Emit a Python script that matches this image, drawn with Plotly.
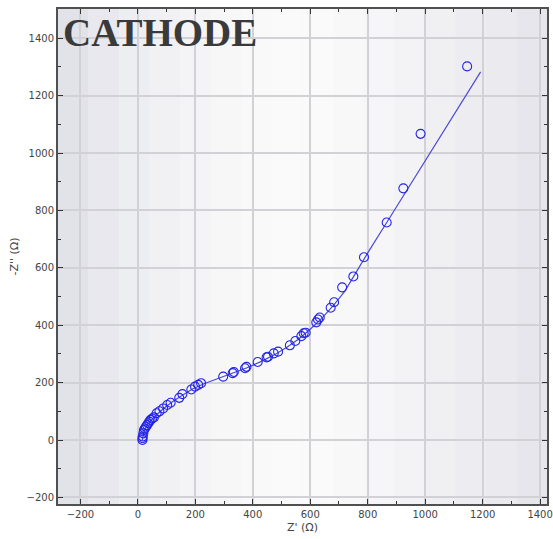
import plotly.graph_objects as go

# Measured data (Z' , -Z'') in ohms
z_real = [16, 16, 17, 19, 21, 24, 28, 32, 36, 40, 44, 50, 56, 65, 75, 88, 102, 114,
          144, 155, 186, 199, 210, 220, 297, 330, 334, 373, 378, 417, 448, 453, 473,
          488, 529, 548, 569, 577, 584, 621, 627, 633, 671, 683, 711, 750, 787, 866,
          924, 984, 1146]
z_imag = [0, 6, 12, 23, 35, 40, 46, 52, 58, 64, 70, 75, 79, 93, 100, 110, 122, 130,
          147, 160, 176, 186, 192, 198, 221, 233, 237, 250, 255, 272, 288, 290, 302,
          308, 330, 345, 362, 372, 374, 410, 420, 427, 461, 480, 532, 570, 637, 758,
          877, 1067, 1302]

# Fitted curve (Z', -Z'')
fit_real = [15, 17, 20, 26, 35, 48, 65, 90, 120, 155, 190, 230, 280, 330, 380, 430,
            480, 520, 560, 600, 640, 680, 720, 760, 800, 870, 940, 1020, 1100, 1193]
fit_imag = [-2, 12, 25, 40, 55, 70, 88, 110, 133, 156, 178, 196, 215, 234, 252, 274,
            300, 324, 352, 386, 424, 468, 518, 585, 652, 764, 876, 1003, 1130, 1283]

x_ticks = [-200, 0, 200, 400, 600, 800, 1000, 1200, 1400]
y_ticks = [-200, 0, 200, 400, 600, 800, 1000, 1200, 1400]
x_range = [-278, 1424]
y_range = [-223, 1502]

fig = go.Figure()

# subtle horizontal gradient background for the plot area
shades = ["#e2e2e9", "#e8e8ee", "#edeef2", "#f1f1f4", "#f4f4f6", "#f7f7f8", "#f9f9fa",
          "#fafafb", "#fafafb", "#f8f8f9", "#f6f6f8", "#f3f3f6", "#f0f0f3", "#ededf1",
          "#eaeaef", "#e6e6ec"]
n = len(shades)
for i, c in enumerate(shades):
    fig.add_shape(type="rect", xref="paper", yref="paper",
                  x0=i / n, x1=(i + 1) / n, y0=0, y1=1,
                  fillcolor=c, line_width=0, layer="below")

fig.add_trace(go.Scatter(
    x=fit_real, y=fit_imag, mode="lines",
    line=dict(color="#4a4ad8", width=1.2),
    hoverinfo="skip", showlegend=False))

fig.add_trace(go.Scatter(
    x=z_real, y=z_imag, mode="markers",
    marker=dict(symbol="circle-open", size=9, color="#2424e8",
                line=dict(width=1.1, color="#2424e8")),
    showlegend=False))

axis_common = dict(
    showline=True, linecolor="#505050", linewidth=2, mirror="allticks",
    ticks="inside", ticklen=5, tickwidth=1, tickcolor="#333",
    showgrid=True, gridcolor="#d2d2d6", gridwidth=1.5,
    zeroline=False, automargin=False,
    tickfont=dict(family="DejaVu Sans", size=10, color="#444"),
    minor=dict(dtick=100, ticks="inside", ticklen=3, tickcolor="#333", showgrid=False),
)

fig.update_xaxes(range=x_range, tickvals=x_ticks, **axis_common,
                 title=dict(text="Z' (Ω)", standoff=4,
                            font=dict(family="DejaVu Sans", size=11, color="#444")))
fig.update_yaxes(range=y_range, tickvals=y_ticks, **axis_common,
                 title=dict(text="-Z'' (Ω)", standoff=6,
                            font=dict(family="DejaVu Sans", size=11, color="#444")))

fig.add_annotation(text="<b>CATHODE</b>", xref="paper", yref="paper",
                   x=0.006, y=1, xanchor="left", yanchor="top", showarrow=False,
                   yshift=0,
                   font=dict(family="Liberation Serif", size=39, color="#3a3a3a"))

fig.update_layout(
    width=553, height=539,
    margin=dict(l=58, r=6, t=9, b=35),
    paper_bgcolor="white", plot_bgcolor="#f4f4f6",
)

fig.write_html("out.html", config={"displayModeBar": False},
               post_script="document.body.style.margin='0';")
